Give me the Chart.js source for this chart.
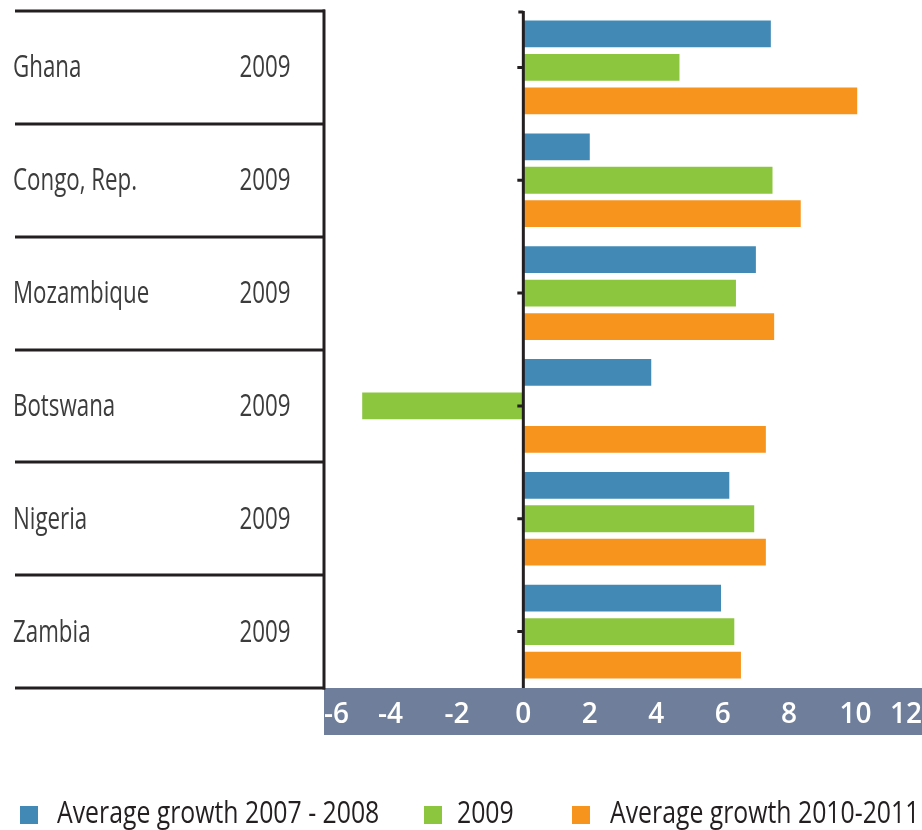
<!DOCTYPE html>
<html>
<head>
<meta charset="utf-8">
<script src="https://cdn.jsdelivr.net/npm/chart.js@4"></script>
<style>
  html, body { margin: 0; padding: 0; background: #fff; }
  #wrap { position: relative; width: 922px; height: 830px; }
</style>
</head>
<body>
<div id="wrap"><canvas id="growthChart"></canvas></div>
<script>
// Data
const countries = ['Ghana', 'Congo, Rep.', 'Mozambique', 'Botswana', 'Nigeria', 'Zambia'];
const yearLabels = ['2009', '2009', '2009', '2009', '2009', '2009'];
const growth0708 = [7.45, 2.0, 7.0, 3.85, 6.2, 5.95];
const growth2009 = [4.7, 7.5, 6.4, -4.85, 6.95, 6.35];
const growth1011 = [10.05, 8.35, 7.55, 7.3, 7.3, 6.55];
const xTicks = [-6, -4, -2, 0, 2, 4, 6, 8, 10, 12];
const seriesNames = ['Average growth 2007 - 2008', '2009', 'Average growth 2010-2011'];
const seriesColors = ['#428ab5', '#8cc63f', '#f7941e'];

const FONT = '"Open Sans", "Noto Sans", sans-serif';
const LINE = '#231f20';

// the original uses a condensed face, so squeeze the text horizontally
function narrowText(ctx, text, x, y, align, squeeze) {
    const w = ctx.measureText(text).width * squeeze;
    let left = x;
    if (align === 'center') left = x - w / 2;
    ctx.save();
    ctx.translate(left, y);
    ctx.scale(squeeze, 1);
    ctx.textAlign = 'left';
    ctx.fillText(text, 0, 0);
    ctx.restore();
}

// left table, zero line, axis band and legend
const frame = {
    id: 'frame',
    beforeDraw(chart) {
        const { ctx, chartArea } = chart;
        ctx.save();
        ctx.fillStyle = '#6f7f9b';
        ctx.fillRect(chartArea.left, chartArea.bottom, chartArea.right - chartArea.left, 47);
        ctx.restore();
    },
    afterDatasetsDraw(chart) {
        const { ctx, chartArea, scales } = chart;
        const y = scales.y, x = scales.x;
        const step = (chartArea.bottom - chartArea.top) / countries.length;
        ctx.save();

        // table lines
        ctx.strokeStyle = LINE;
        ctx.lineWidth = 3;
        for (let i = 0; i <= countries.length; i++) {
            const yy = Math.round(chartArea.top + i * step);
            ctx.beginPath();
            ctx.moveTo(15, yy);
            ctx.lineTo(chartArea.left + 1, yy);
            ctx.stroke();
        }
        ctx.beginPath();
        ctx.moveTo(chartArea.left, chartArea.top - 1.5);
        ctx.lineTo(chartArea.left, chartArea.bottom + 1.5);
        ctx.stroke();

        // zero line with ticks
        const x0 = x.getPixelForValue(0);
        ctx.beginPath();
        ctx.moveTo(x0, chartArea.top);
        ctx.lineTo(x0, chartArea.bottom);
        ctx.stroke();
        ctx.beginPath();
        ctx.moveTo(x0 - 5, chartArea.top + 1);
        ctx.lineTo(x0, chartArea.top + 1);
        countries.forEach((c, i) => {
            const yy = y.getPixelForTick(i);
            ctx.moveTo(x0 - 6, yy);
            ctx.lineTo(x0, yy);
        });
        ctx.stroke();

        // row labels
        ctx.fillStyle = '#3c3c3c';
        ctx.font = '31px ' + FONT;
        ctx.textBaseline = 'alphabetic';
        countries.forEach((c, i) => {
            const yy = y.getPixelForTick(i) + 10;
            narrowText(ctx, c, 13, yy, 'left', 0.72);
            narrowText(ctx, yearLabels[i], 265, yy, 'center', 0.72);
        });

        // legend
        const legendX = [[20, 57], [424, 457], [572, 610]];
        ctx.font = '31px ' + FONT;
        chart.data.datasets.forEach((ds, i) => {
            ctx.fillStyle = ds.backgroundColor;
            ctx.fillRect(legendX[i][0], 806, 18, 18);
            ctx.fillStyle = '#231f20';
            narrowText(ctx, ds.label, legendX[i][1], 823, 'left', 0.8);
        });
        ctx.restore();
    }
};

new Chart(document.getElementById('growthChart'), {
    type: 'bar',
    data: {
        labels: countries,
        datasets: [
            { label: seriesNames[0], data: growth0708, backgroundColor: seriesColors[0] },
            { label: seriesNames[1], data: growth2009, backgroundColor: seriesColors[1] },
            { label: seriesNames[2], data: growth1011, backgroundColor: seriesColors[2] }
        ]
    },
    options: {
        indexAxis: 'y',
        responsive: true,
        maintainAspectRatio: false,
        animation: false,
        categoryPercentage: 0.89,
        barPercentage: 0.8,
        layout: { padding: { top: 11, right: 0, bottom: 95, left: 0 } },
        plugins: {
            legend: { display: false },
            tooltip: { enabled: false }
        },
        scales: {
            x: {
                min: -6,
                max: 12,
                afterBuildTicks: (axis) => { axis.ticks = xTicks.map(v => ({ value: v })); },
                afterFit: (axis) => {
                    axis.height = 47;
                    axis.paddingLeft = 0;
                    axis.paddingRight = 0;
                },
                grid: { display: false, drawTicks: false },
                border: { display: false },
                ticks: {
                    color: '#ffffff',
                    padding: 10,
                    align: 'inner',
                    maxRotation: 0,
                    autoSkip: false,
                    font: { family: FONT, size: 28, weight: '600' }
                }
            },
            y: {
                afterFit: (axis) => { axis.width = 324; },
                grid: { display: false, drawTicks: false },
                border: { display: false },
                ticks: { display: false }
            }
        }
    },
    plugins: [frame]
});
</script>
</body>
</html>
